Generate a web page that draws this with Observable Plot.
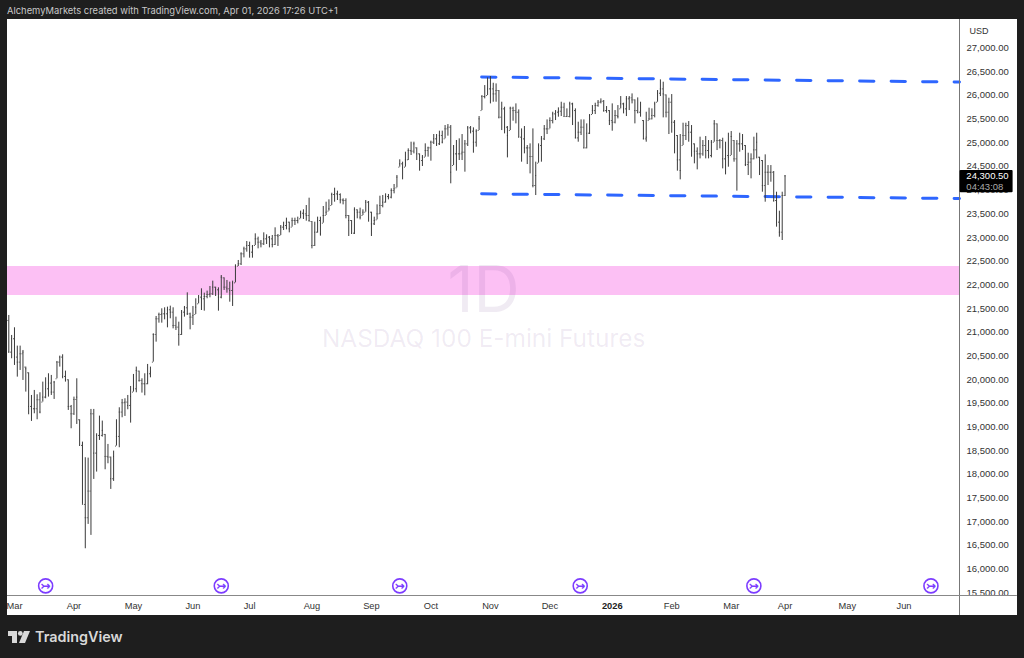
<!DOCTYPE html>
<html>
<head>
<meta charset="utf-8">
<script src="https://cdn.jsdelivr.net/npm/d3@7"></script>
<script src="https://cdn.jsdelivr.net/npm/@observablehq/plot@0.6"></script>
<style>
html,body{margin:0;padding:0;background:#1e1e1e;}
#page{position:relative;width:1024px;height:658px;background:#1e1e1e;overflow:hidden;font-family:Inter,"Noto Sans",sans-serif;}
#head{position:absolute;left:7px;top:5px;font-size:9.4px;line-height:12px;color:#c8c8c8;white-space:nowrap;}
#chart{position:absolute;left:7px;top:19px;width:1010px;height:596px;background:#fff;}
#chart svg{display:block;overflow:hidden;background:#fff;}
#logo{position:absolute;left:8px;top:628px;display:flex;align-items:center;gap:5px;color:#d8d8d8;font-size:14.4px;font-weight:600;line-height:18px;}
</style>
</head>
<body>
<div id="page">
<div id="head">AlchemyMarkets created with TradingView.com, Apr 01, 2026 17:26 UTC+1</div>
<div id="chart"></div>
<div id="logo"><svg width="22" height="12" viewBox="0 0 22 12"><path fill="#d8d8d8" d="M0 0H9V12H4V5H0Z"/><circle fill="#d8d8d8" cx="12.3" cy="2.4" r="2.4"/><path fill="#d8d8d8" d="M16 0H22L17 12H11Z"/></svg><span>TradingView</span></div>
</div>
<script>
const highs = [21353,20931,21093,20706,20706,20614,20263,20143,19664,19770,19679,19721,19946,20037,20122,20087,19960,20382,20495,20523,20178,19995,19453,19629,20016,19151,18679,18349,18341,19369,19369,18855,19228,19123,18841,18630,18363,18489,19151,19404,19580,19594,19664,19854,20108,20263,20178,20016,20122,20319,20263,
20966,21332,21402,21494,21515,21529,21550,21515,21318,21212,21458,21543,21831,21402,21543,21705,21775,21916,21824,21867,21965,22078,21951,21937,22197,22148,22092,22057,22078,22423,22514,22676,22795,22915,22901,22831,23077,23007,22936,23098,23056,23021,23042,23204,23063,23253,23323,23408,23323,23408,23408,23429,23556,23584,23675,23830,23337,23323,23429,23429,23654,23745,23795,23935,24041,23978,23921,23816,23816,23464,23358,23626,23584,23619,23584,23781,23760,23534,23429,23689,23872,
23887,23922,23908,24027,24119,24309,24640,24590,24801,24872,25012,25012,24893,24766,24731,24977,24907,25034,25174,25174,25245,25245,25364,25385,25364,24942,25048,25083,25174,25048,25343,25343,25315,25273,25554,
25997,26208,26370,26398,26257,26243,26103,25856,25751,25343,25751,25751,25821,25694,25293,25343,24942,24977,25293,24590,24977,25132,25364,25483,25526,25645,25680,25737,25856,25835,25716,25856,25835,25716,25434,25483,25483,25399,25596,25786,25835,25892,25927,25892,25765,25680,25821,25680,25786,25976,25835,25976,25976,26032,25906,25948,25856,25469,25645,25730,25716,25856,26103,
26328,26279,26011,25941,26018,25469,25153,25174,25413,25413,25448,25364,24977,24892,25118,25047,25132,25047,25047,25469,25399,25068,25096,25012,25202,25237,25047,25047,25202,25174,24942,24780,24766,25118,25202,24695,24625,24745,24519,24519,24393,23956,23555,23956,24308];
const lows = [20558,20439,20298,20051,20192,19981,19735,19256,19116,19277,19151,19277,19524,19594,19629,19664,19580,20016,20263,20016,19946,19348,18961,19242,19052,18595,17363,16427,16941,16709,17891,18046,18714,18785,18095,18222,17680,17849,18595,18560,19193,19221,19362,19080,19735,19721,19946,19714,19657,19890,20037,
20368,20790,21191,21191,21261,21092,21283,21071,21036,20705,20931,21318,21353,21050,21142,21374,21599,21458,21444,21705,21726,21775,21754,21444,21705,21881,21824,21634,21543,22042,22387,22408,22570,22690,22563,22563,22831,22760,22781,22831,22852,22781,22781,22831,22810,23042,23147,23161,23098,23218,23253,23288,23394,23380,23344,23323,22760,22810,23091,23028,23302,23464,23556,23675,23745,23781,23710,23689,23394,23021,23063,23063,23394,23372,23464,23534,23323,23021,23253,23372,23485,
23626,23725,23795,23816,23922,24048,24485,24217,24485,24625,24731,24766,24625,24400,24499,24696,24696,24611,24963,24921,24942,24977,25083,25139,24133,24520,24400,24625,24625,24379,24921,25188,24780,24907,25259,
25680,25927,25997,25821,25856,25856,25504,25258,25188,24681,25258,25455,25399,25103,24590,24766,24540,24343,24048,23886,24569,24590,25047,25174,25293,25399,25469,25540,25554,25540,25540,25526,25364,25082,25012,25153,24871,24871,25174,25596,25596,25751,25821,25645,25624,25364,25244,25399,25504,25716,25610,25554,25680,25821,25399,25610,25540,25061,25012,25469,25483,25526,25856,
25976,25526,25526,25174,25202,24766,24400,24217,24942,25047,25012,24695,24555,24428,24660,24716,24660,24660,24681,25012,24836,24871,24449,24322,24484,24730,24590,23978,24801,24836,24498,24308,24238,24639,24660,24308,23956,23745,24097,24167,23745,23218,23006,22936,23865];
const closes = [20579,20861,20474,20368,20544,20579,20227,19432,19383,19383,19573,19313,19629,19805,19925,19735,19946,20368,20474,20066,19995,19432,19277,19580,19629,18609,17363,17082,17645,19277,18447,18820,18820,18926,18377,18363,17905,18377,18799,19313,19510,19524,19453,19643,19805,20192,19981,19911,19911,20122,20157,
20952,21283,21374,21388,21388,21473,21423,21142,21107,20952,21423,21515,21388,21318,21353,21529,21740,21705,21754,21796,21810,21951,21895,21740,22162,21951,21916,21881,22042,22394,22444,22655,22760,22831,22690,22810,22971,22901,22866,22971,23007,22971,22852,23042,23028,23218,23253,23323,23182,23358,23358,23358,23513,23499,23464,23358,22831,23112,23358,23077,23464,23534,23605,23907,23921,23907,23795,23781,23464,23358,23091,23584,23534,23429,23534,23745,23534,23288,23358,23499,23675,
23746,23865,23851,23992,24027,24274,24555,24471,24640,24837,24823,24977,24766,24625,24696,24837,24893,25012,25083,24977,25153,25012,25294,25329,24379,24766,24766,24766,24801,24977,25315,25245,25012,25245,25505,
25976,25976,26138,26138,26032,26103,25540,25716,25329,25153,25730,25680,25645,25118,25082,24892,24892,24709,24097,24308,24942,25082,25293,25293,25469,25610,25645,25666,25751,25554,25554,25821,25680,25103,25223,25329,24892,25202,25575,25680,25786,25856,25877,25680,25680,25469,25434,25575,25554,25821,25716,25927,25948,25906,25680,25645,25680,25082,25118,25504,25575,25821,26046,
26138,26032,25645,25856,25434,25364,24639,24414,25153,25364,25223,25272,24822,24766,24766,24942,24836,24730,25012,25399,25047,25047,24660,24730,24695,25132,24660,24977,24977,24942,24540,24590,24660,24850,25012,24625,24097,24378,24378,24378,23780,23323,23112,23886,24300.5];
const opens = [21248,20579,20861,20474,20368,20544,20579,20227,19432,19383,19383,19573,19313,19629,19805,19925,19735,19946,20368,20474,20066,19995,19432,19277,19580,19151,18609,17363,17082,17645,19277,18447,18820,18820,18926,18377,18363,17905,18377,18799,19313,19510,19524,19453,19643,19805,20192,19981,19911,19911,20122,
20157,20952,21283,21374,21388,21388,21473,21423,21142,21107,20952,21423,21515,21388,21318,21353,21529,21740,21705,21754,21796,21810,21951,21895,21740,22162,21951,21916,21881,22042,22394,22444,22655,22760,22831,22690,22810,22971,22901,22866,22971,23007,22971,22852,23042,23028,23218,23253,23323,23182,23358,23358,23358,23513,23499,23464,23358,22831,23112,23358,23077,23464,23534,23605,23907,23921,23907,23795,23781,23464,23358,23091,23584,23534,23429,23534,23745,23534,23288,23358,23499,
23675,23746,23865,23851,23992,24027,24274,24555,24471,24640,24837,24823,24977,24766,24625,24696,24837,24893,25012,25083,24977,25153,25012,25294,25329,24379,24766,24766,24766,24801,24977,25315,25245,25012,25245,
25505,25976,25976,26138,26138,26032,26103,25540,25716,25329,25153,25730,25680,25645,25118,25082,24892,24892,24709,24097,24308,24942,25082,25293,25293,25469,25610,25645,25666,25751,25554,25554,25821,25680,25103,25223,25329,24892,25202,25575,25680,25786,25856,25877,25680,25680,25469,25434,25575,25554,25821,25716,25927,25948,25906,25680,25645,25680,25082,25118,25504,25575,25821,
26046,26138,26032,25645,25856,25434,25364,24639,24414,25153,25364,25223,25272,24822,24766,24766,24942,24836,24730,25012,25399,25047,25047,24660,24730,24695,25132,24660,24977,24977,24942,24540,24590,24660,24850,25012,24625,24097,24378,24378,24378,23780,23323,23112,23886];

const monthTicks = [2,23,44,65,85,107,128,149,170,191,213,234,255,274,296,316];
const monthLabels = ["Mar","Apr","May","Jun","Jul","Aug","Sep","Oct","Nov","Dec","2026","Feb","Mar","Apr","May","Jun"];
const priceTicks = [15500,16000,16500,17000,17500,18000,18500,19000,19500,20000,20500,21000,21500,22000,22500,23000,23500,24000,24500,25000,25500,26000,26500,27000];
const rolloverBars = [13.0,75,138,201.7,263,325.5];
const rolloverPrice = 15643;
const xDomain = [-0.46,335.58];
const yDomain = [15440,27603];
const zonePrices = [21775,22387];
const upperChannel = [{i:166.9,p:26388},{i:335.58,p:26282}];
const lowerChannel = [{i:166.9,p:23922},{i:335.58,p:23823}];
const lastPrice = 24300.5;
const countdown = "04:43:08";
const paneEnd = 356;
const paneFloor = 15018;
const textIndex = 167.6;

const bars = highs.map((h,i)=>({
  i, high:h, low:lows[i], close:closes[i],
  open:Math.max(lows[i],Math.min(h,opens[i]))
}));
const labelOf = new Map(monthTicks.map((t,k)=>[t,monthLabels[k]]));
const blue = "#2e66ff";
const purple = "#7c3cff";
const FONT = "Inter,'Noto Sans',sans-serif";
const AXF = "'Liberation Sans',Arial,sans-serif";
const dash = {stroke:blue,strokeWidth:3,strokeDasharray:"14.3,17.2"};

const plot = Plot.plot({
  width:1010,height:596,
  marginLeft:0,marginRight:58,marginTop:0,marginBottom:20,
  x:{type:"linear",domain:xDomain},
  y:{type:"linear",domain:yDomain},
  style:{fontFamily:AXF,background:"#fff",overflow:"hidden"},
  marks:[
    Plot.rect([{}],{x1:xDomain[0],x2:xDomain[1],y1:zonePrices[0],y2:zonePrices[1],fill:"#fcc0f4",inset:0}),
    Plot.text(["1D"],{x:textIndex,y:21850,text:d=>d,fontSize:64,fill:"rgba(110,60,140,0.1)",fontFamily:FONT}),
    Plot.text(["NASDAQ 100 E-mini Futures"],{x:textIndex,y:20850,text:d=>d,fontSize:24.4,fill:"rgba(110,60,140,0.1)",fontFamily:FONT}),
    Plot.line(upperChannel,{x:"i",y:"p",...dash}),
    Plot.line(lowerChannel,{x:"i",y:"p",...dash}),
    Plot.ruleX(bars,{x:"i",y1:"low",y2:"high",stroke:"#3a3a3a",strokeWidth:1}),
    Plot.ruleY(bars,{y:"open",x1:d=>d.i-0.3,x2:"i",stroke:"#3a3a3a",strokeWidth:1}),
    Plot.ruleY(bars,{y:"close",x1:"i",x2:d=>d.i+0.3,stroke:"#3a3a3a",strokeWidth:1}),
    Plot.dot(rolloverBars,{x:d=>d,y:()=>rolloverPrice,r:7,stroke:purple,strokeWidth:1.6,fill:"#fff"}),
    Plot.text(rolloverBars,{x:d=>d,y:()=>rolloverPrice,text:()=>"↣",fontSize:12,fontWeight:"bold",fill:purple,fontFamily:"DejaVu Sans"}),
    Plot.axisY(priceTicks,{anchor:"right",tickSize:0,tickPadding:7,tickFormat:d3.format(",.2f"),fontSize:9.5,fill:"#333",label:null,fontFamily:AXF}),
    Plot.text(["USD"],{x:xDomain[1],y:27350,text:d=>d,dx:10,textAnchor:"start",fontSize:9,fill:"#333",fontFamily:AXF}),
    Plot.rect([{}],{x1:xDomain[1],x2:paneEnd,y1:paneFloor,y2:yDomain[0],fill:"#fff"}),
    Plot.ruleX([xDomain[1]],{y1:paneFloor,y2:yDomain[1],stroke:"#777",strokeWidth:1}),
    Plot.ruleY([yDomain[0]],{x1:xDomain[0],x2:paneEnd,stroke:"#888",strokeWidth:1}),
    Plot.axisX(monthTicks.filter(t=>labelOf.get(t)!=="2026"),{anchor:"bottom",tickSize:0,tickPadding:7,tickFormat:t=>labelOf.get(t),fontSize:9.3,fill:"#333",label:null,fontFamily:AXF}),
    Plot.axisX(monthTicks.filter(t=>labelOf.get(t)==="2026"),{anchor:"bottom",tickSize:0,tickPadding:7,tickFormat:t=>labelOf.get(t),fontSize:9.3,fontWeight:"bold",fill:"#222",label:null,fontFamily:AXF}),
    Plot.rect([{}],{x1:xDomain[1]+0.2,x2:354.5,y1:23943,y2:24414,fill:"#000",rx:1}),
    Plot.text([lastPrice],{x:338,y:lastPrice,dy:0.5,text:d=>d3.format(",.2f")(d),textAnchor:"start",fontSize:9.5,fill:"#fff",fontFamily:AXF}),
    Plot.text([countdown],{x:338,y:lastPrice,dy:11.5,text:d=>d,textAnchor:"start",fontSize:9.5,fill:"#aaa",fontFamily:AXF})
  ]
});
document.getElementById("chart").appendChild(plot);
</script>
</body>
</html>
